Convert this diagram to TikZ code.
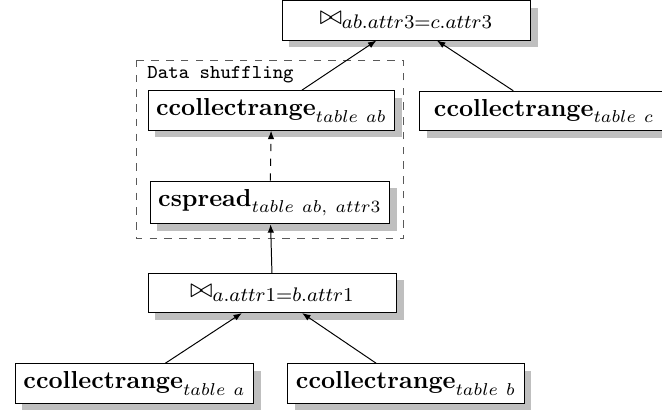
\documentclass[tikz,border=0pt]{standalone}
\usepackage{amsmath}
\usepackage{tikz}
\usetikzlibrary{arrows.meta, shadows}

\tikzset{
  op/.style={draw, fill=white, minimum height=0.56cm, inner sep=3.3pt,
    drop shadow={opacity=1, fill=black!25, shadow xshift=0.1cm, shadow yshift=-0.1cm}},
  joinop/.style={op, minimum width=3.55cm, font=\fontsize{11}{13}\selectfont},
  flow/.style={-{Latex[length=3.4pt,width=2.6pt]}}
}

\begin{document}
\begin{tikzpicture}
  \useasboundingbox (0,0) rectangle (9.467,-5.892);
  % shuffling group
  \draw[dashed, black!65] (1.959,-0.858) rectangle (5.777,-3.417);
  \node[anchor=west, inner sep=0pt, font=\footnotesize\ttfamily] (shuf) at (2.102,-1.073) {Data shuffling};

  \node[joinop] (top) at (5.813,-0.293) {$\bowtie_{ab.attr3=c.attr3}$};
  \node[op] (ab) at (3.882,-1.580) {$\textbf{ccollectrange}_{table\ ab}$};
  \node[op, minimum width=3.55cm] (c) at (7.78,-1.587) {$\textbf{ccollectrange}_{table\ c}$};
  \node[op] (spread) at (3.861,-2.896) {$\textbf{cspread}_{table\ ab,\ attr3}$};
  \node[joinop] (bot) at (3.897,-4.190) {$\bowtie_{a.attr1=b.attr1}$};
  \node[op] (a) at (1.923,-5.484) {$\textbf{ccollectrange}_{table\ a}$};
  \node[op] (b) at (5.806,-5.484) {$\textbf{ccollectrange}_{table\ b}$};

  \draw[flow] (a) -- (bot);
  \draw[flow] (b) -- (bot);
  \draw[flow] (bot) -- (spread);
  \draw[flow, dashed] (spread) -- (ab);
  \draw[flow] (ab) -- (top);
  \draw[flow] (c) -- (top);
\end{tikzpicture}
\end{document}
